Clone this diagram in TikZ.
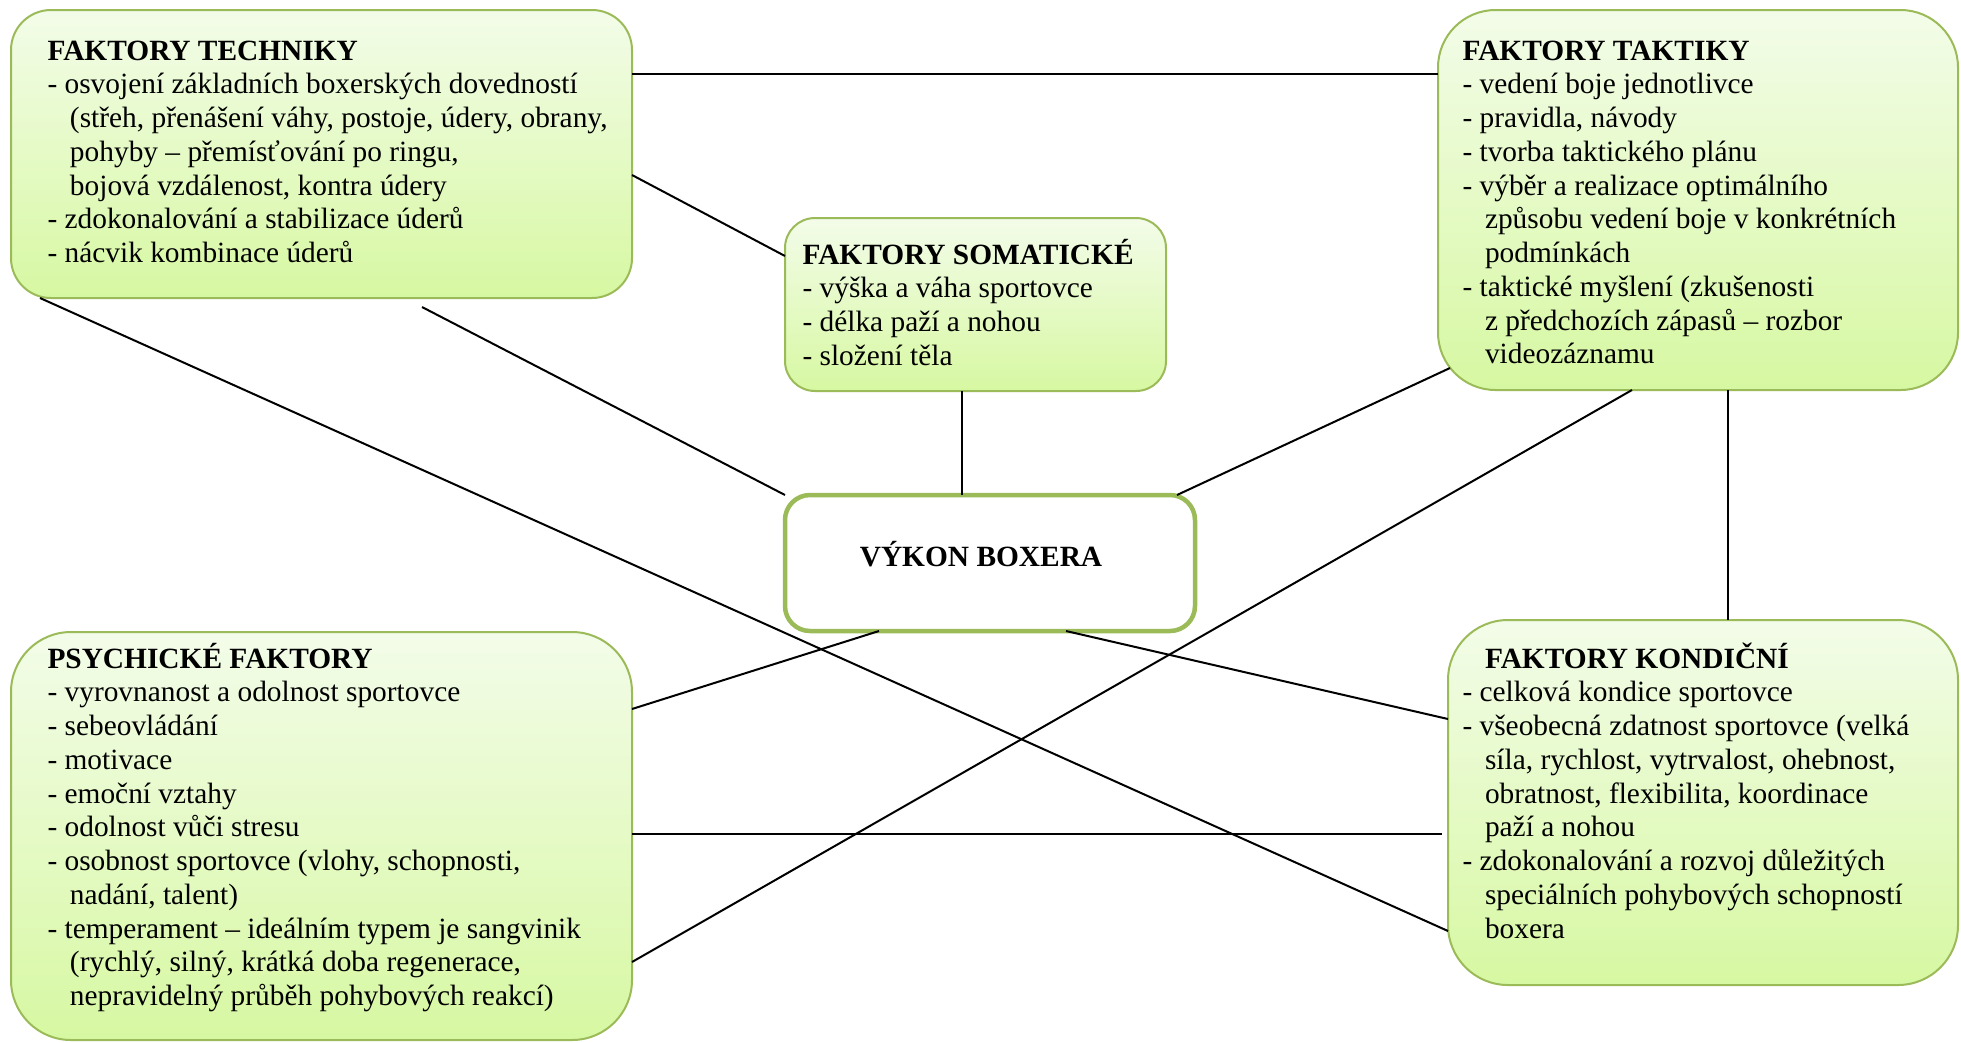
\documentclass[tikz,border=0pt]{standalone}
\usepackage{fontspec}
\setmainfont{Liberation Serif}
\usetikzlibrary{fit, calc}
\definecolor{boxline}{HTML}{9BBB59}
\definecolor{boxtop}{HTML}{F3FCE9}
\definecolor{boxbottom}{HTML}{D7F8A2}
\newcommand{\ind}{\hspace*{9pt}}
\newcommand{\tstrut}{\rule{0pt}{11pt}}

\begin{document}
\begin{tikzpicture}[x=0.4pt,y=-0.4pt,
  factorbox/.style={draw=boxline,line width=0.8pt,top color=boxtop,bottom color=boxbottom,inner sep=0pt,outer sep=0pt},
  centerbox/.style={draw=boxline,line width=1.8pt,fill=white,inner sep=0pt,outer sep=0pt,rounded corners=10pt},
  factortext/.style={anchor=north west,inner sep=0pt,align=left,font=\fontsize{11.75}{13.5}\selectfont},
  link/.style={line width=0.8pt}]
  \useasboundingbox (0,0) rectangle (1961,1042);
  % boxes
  \node[factorbox,rounded corners=16pt,fit={(11,10) (632,298)}] (tech) {};
  \node[factorbox,rounded corners=12pt,fit={(785,218) (1166,391)}] (soma) {};
  \node[factorbox,rounded corners=23pt,fit={(1438,10) (1958,390)}] (takt) {};
  \node[factorbox,rounded corners=24pt,fit={(11,632) (632,1040)}] (psych) {};
  \node[factorbox,rounded corners=24pt,fit={(1448,620) (1958,985)}] (kond) {};
  \node[centerbox,fit={(785,495) (1195,631)}] (vykon) {};
  % texts
  \node[factortext] (techtext) at (47,32) {\tstrut\textbf{FAKTORY TECHNIKY}\\
    - osvojení základních boxerských dovedností\\
    \ind(střeh, přenášení váhy, postoje, údery, obrany,\\
    \ind pohyby – přemísťování po ringu,\\
    \ind bojová vzdálenost, kontra údery\\
    - zdokonalování a stabilizace úderů\\
    - nácvik kombinace úderů};
  \node[factortext] (somatext) at (802,236) {\tstrut\textbf{FAKTORY SOMATICKÉ}\\
    - výška a váha sportovce\\
    - délka paží a nohou\\
    - složení těla};
  \node[factortext] (takttext) at (1462,32) {\tstrut\textbf{FAKTORY TAKTIKY}\\
    - vedení boje jednotlivce\\
    - pravidla, návody\\
    - tvorba taktického plánu\\
    - výběr a realizace optimálního\\
    \ind způsobu vedení boje v konkrétních\\
    \ind podmínkách\\
    - taktické myšlení (zkušenosti\\
    \ind z předchozích zápasů – rozbor\\
    \ind videozáznamu};
  \node[factortext] (psychtext) at (47,640) {\tstrut\textbf{PSYCHICKÉ FAKTORY}\\
    - vyrovnanost a odolnost sportovce\\
    - sebeovládání\\
    - motivace\\
    - emoční vztahy\\
    - odolnost vůči stresu\\
    - osobnost sportovce (vlohy, schopnosti,\\
    \ind nadání, talent)\\
    - temperament – ideálním typem je sangvinik\\
    \ind(rychlý, silný, krátká doba regenerace,\\
    \ind nepravidelný průběh pohybových reakcí)};
  \node[factortext] (kondtext) at (1462,640) {\tstrut\ind\textbf{FAKTORY KONDIČNÍ}\\
    - celková kondice sportovce\\
    - všeobecná zdatnost sportovce (velká\\
    \ind síla, rychlost, vytrvalost, ohebnost,\\
    \ind obratnost, flexibilita, koordinace\\
    \ind paží a nohou\\
    - zdokonalování a rozvoj důležitých\\
    \ind speciálních pohybových schopností\\
    \ind boxera};
  \node[anchor=base,inner sep=0pt,font=\fontsize{11.75}{13.5}\selectfont\bfseries] (vykontext) at (981,566) {VÝKON BOXERA};
  % connectors
  \draw[link] ($(tech.north east)+(0,64)$) -- ($(takt.north west)+(0,64)$);
  \draw[link] ($(tech.north east)+(0,165)$) -- ($(soma.north west)+(0,38)$);
  \draw[link] ($(tech.south west)+(411,9)$) -- (vykon.north west);
  \draw[link] ($(tech.south west)+(29,0)$) -- ($(kond.north west)+(0,311)$);
  \draw[link] ($(soma.south west)+(177,0)$) -- ($(vykon.north west)+(177,0)$);
  \draw[link] ($(takt.south west)+(12,-22)$) -- ($(vykon.north east)+(-18,0)$);
  \draw[link] ($(takt.south west)+(194,0)$) -- ($(psych.north east)+(0,330)$);
  \draw[link] ($(takt.south west)+(290,0)$) -- ($(kond.north west)+(280,0)$);
  \draw[link] ($(vykon.south west)+(94,0)$) -- ($(psych.north east)+(0,77)$);
  \draw[link] ($(vykon.south west)+(281,0)$) -- ($(kond.north west)+(0,99)$);
  \draw[link] ($(psych.north east)+(0,202)$) -- ($(kond.north west)+(-6,214)$);
\end{tikzpicture}
\end{document}
